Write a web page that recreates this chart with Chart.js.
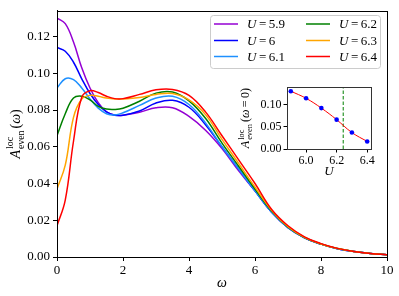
<!DOCTYPE html>
<html>
<head>
<meta charset="utf-8">
<script src="https://cdn.jsdelivr.net/npm/chart.js@4.4.1/dist/chart.umd.min.js"></script>
<style>
  html, body { margin: 0; padding: 0; background: #fff; overflow: hidden; }
  #wrap { position: relative; width: 399px; height: 296px; }
  #main { position: absolute; left: 0; top: 0; }
  #inset { position: absolute; left: 220px; top: 78px; }
</style>
</head>
<body>
<div id="wrap">
  <canvas id="main" width="399" height="296"></canvas>
  <canvas id="inset" width="175" height="105"></canvas>
</div>
<script>
// frequency grid
const omega = [0, 0.25, 0.5, 0.75, 1, 1.25, 1.5, 1.75, 2, 2.5, 3, 3.5, 4, 4.5, 5, 5.5, 6, 6.5, 7, 7.5, 8, 8.5, 9, 9.5, 10];

// A_even^loc(omega) for each U
const a59 = [0.130, 0.127, 0.117, 0.103, 0.092, 0.084, 0.079, 0.0773, 0.0772, 0.0788, 0.0812, 0.0812, 0.0765, 0.069, 0.059, 0.047, 0.036, 0.0245, 0.016, 0.0105, 0.007, 0.0045, 0.003, 0.0019, 0.0012];
const a60 = [0.114, 0.112, 0.106, 0.097, 0.089, 0.083, 0.079, 0.0772, 0.0772, 0.0795, 0.0838, 0.0853, 0.0815, 0.072, 0.060, 0.048, 0.036, 0.0245, 0.016, 0.0105, 0.007, 0.0045, 0.003, 0.0019, 0.0012];
const a61 = [0.092, 0.097, 0.0965, 0.092, 0.086, 0.081, 0.078, 0.0773, 0.0785, 0.0825, 0.0865, 0.0875, 0.083, 0.073, 0.060, 0.048, 0.036, 0.0245, 0.016, 0.0105, 0.007, 0.0045, 0.003, 0.0019, 0.0012];
const a62 = [0.066, 0.078, 0.0865, 0.0875, 0.0855, 0.082, 0.0805, 0.0803, 0.081, 0.0848, 0.0892, 0.0898, 0.085, 0.0755, 0.062, 0.0495, 0.037, 0.025, 0.0162, 0.0106, 0.0071, 0.0046, 0.003, 0.0019, 0.0012];
const a63 = [0.037, 0.050, 0.076, 0.086, 0.088, 0.0875, 0.0865, 0.086, 0.086, 0.0868, 0.0885, 0.089, 0.0855, 0.0775, 0.064, 0.051, 0.038, 0.0255, 0.0165, 0.0107, 0.0071, 0.0046, 0.003, 0.0019, 0.0012];
const a64 = [0.017, 0.031, 0.063, 0.087, 0.0905, 0.0895, 0.0875, 0.0862, 0.0862, 0.0885, 0.091, 0.0912, 0.088, 0.079, 0.066, 0.053, 0.040, 0.026, 0.017, 0.011, 0.0073, 0.0047, 0.003, 0.0019, 0.0012];

const uLabels = ['5.9', '6', '6.1', '6.2', '6.3', '6.4'];
const series = [a59, a60, a61, a62, a63, a64];
const colors = ['#9400D3', '#0000FF', '#1E90FF', '#008000', '#FFA500', '#FF0000'];

const xTicks = [0, 2, 4, 6, 8, 10];
const yTicks = [0, 0.02, 0.04, 0.06, 0.08, 0.10, 0.12];

// inset: A(omega=0) vs U
const uValues = [5.9, 6.0, 6.1, 6.2, 6.3, 6.4];
const aZero = [0.130, 0.114, 0.092, 0.066, 0.037, 0.017];
const uCrit = 6.243;
const insetXTicks = [6.0, 6.2, 6.4];
const insetYTicks = [0, 0.05, 0.10];

const SERIF = '"Liberation Serif", "DejaVu Serif", serif';

// draw A^{loc}_{even} followed by tail pieces, rotated, centered at cx, cy
function drawALabel(ctx, cx, cy, size, tail) {
  const small = size * 0.7;
  ctx.save();
  ctx.font = 'italic ' + size + 'px ' + SERIF;
  const wA = ctx.measureText('A').width;
  ctx.font = small + 'px ' + SERIF;
  const wS = Math.max(ctx.measureText('loc').width, ctx.measureText('even').width);
  let total = wA + 1 + wS + 2;
  tail.forEach(p => {
    ctx.font = (p[1] ? 'italic ' : '') + size + 'px ' + SERIF;
    total += ctx.measureText(p[0]).width;
  });
  ctx.translate(cx, cy);
  ctx.rotate(-Math.PI / 2);
  ctx.fillStyle = '#000';
  ctx.textBaseline = 'alphabetic';
  ctx.textAlign = 'left';
  let x = -total / 2;
  const base = size * 0.33;
  ctx.font = 'italic ' + size + 'px ' + SERIF;
  ctx.fillText('A', x, base);
  x += wA + 1;
  ctx.font = small + 'px ' + SERIF;
  ctx.fillText('loc', x, base - size * 0.45);
  ctx.fillText('even', x, base + size * 0.28);
  x += wS + 2;
  tail.forEach(p => {
    ctx.font = (p[1] ? 'italic ' : '') + size + 'px ' + SERIF;
    ctx.fillText(p[0], x, base);
    x += ctx.measureText(p[0]).width;
  });
  ctx.restore();
}

const frameAndLabels = {
  id: 'frameAndLabels',
  afterDraw(chart) {
    const ctx = chart.ctx;
    const a = chart.chartArea;
    ctx.save();
    ctx.strokeStyle = '#000';
    ctx.lineWidth = 1;
    ctx.strokeRect(Math.round(a.left) + 0.5, Math.round(a.top) + 0.5, Math.round(a.right - a.left), Math.round(a.bottom - a.top));
    // x label
    ctx.fillStyle = '#000';
    ctx.font = 'italic 14px ' + SERIF;
    ctx.textAlign = 'center';
    ctx.textBaseline = 'middle';
    ctx.fillText('ω', (a.left + a.right) / 2, 283);
    ctx.restore();
    drawALabel(ctx, 15, (a.top + a.bottom) / 2, 14, [['(', false], ['ω', true], [')', false]]);

    // legend, two columns, column-major like matplotlib
    ctx.save();
    const bx = 210, by = 15, bw = 170, bh = 53;
    ctx.fillStyle = 'rgba(255,255,255,0.8)';
    ctx.strokeStyle = '#cccccc';
    ctx.lineWidth = 1;
    ctx.beginPath();
    ctx.roundRect(bx + 0.5, by + 0.5, bw, bh, 3);
    ctx.fill();
    ctx.stroke();
    const rows = [24, 40.5, 56.5];
    const cols = [214, 306];
    chart.data.datasets.forEach((ds, i) => {
      const c = Math.floor(i / 3), r = i % 3;
      const lx = cols[c], ly = rows[r];
      ctx.strokeStyle = ds.borderColor;
      ctx.lineWidth = 1.5;
      ctx.beginPath();
      ctx.moveTo(lx, ly);
      ctx.lineTo(lx + 24, ly);
      ctx.stroke();
      ctx.fillStyle = '#000';
      ctx.textBaseline = 'middle';
      ctx.textAlign = 'left';
      ctx.font = 'italic 13px ' + SERIF;
      ctx.fillText('U', lx + 33, ly + 1);
      const wU = ctx.measureText('U').width;
      ctx.font = '13px ' + SERIF;
      ctx.fillText('=', lx + 33 + wU + 2.5, ly + 1);
      const wEq = ctx.measureText('=').width;
      ctx.fillText(uLabels[i], lx + 33 + wU + wEq + 5, ly + 1);
    });
    ctx.restore();
  }
};

const mainDatasets = series.map((arr, i) => ({
  label: 'U = ' + uLabels[i],
  data: omega.map((w, k) => ({ x: w, y: arr[k] })),
  borderColor: colors[i],
  backgroundColor: colors[i],
  borderWidth: 1.5,
  pointRadius: 0,
  tension: 0.4,
  order: series.length - i
}));

const tickFont = { family: SERIF, size: 13 };

new Chart(document.getElementById('main'), {
  type: 'line',
  data: { datasets: mainDatasets },
  options: {
    responsive: false,
    animation: false,
    layout: { padding: { top: 9, right: 12, left: 0, bottom: 0 } },
    plugins: { legend: { display: false }, tooltip: { enabled: false } },
    scales: {
      x: {
        type: 'linear', min: 0, max: 10,
        afterBuildTicks: s => { s.ticks = xTicks.map(v => ({ value: v })); },
        afterFit: s => { s.height = 39; },
        ticks: { color: '#000', font: tickFont, padding: 2, maxRotation: 0, callback: v => String(v) },
        grid: { display: true, drawOnChartArea: false, drawTicks: true, tickLength: 4, color: '#000' },
        border: { display: true, color: '#000' }
      },
      y: {
        type: 'linear', min: 0, max: 0.134,
        afterBuildTicks: s => { s.ticks = yTicks.map(v => ({ value: v })); },
        afterFit: s => { s.width = 57; },
        ticks: { color: '#000', font: tickFont, padding: 3, callback: v => v.toFixed(2) },
        grid: { display: true, drawOnChartArea: false, drawTicks: true, tickLength: 4, color: '#000' },
        border: { display: true, color: '#000' }
      }
    }
  },
  plugins: [frameAndLabels]
});

// inset
const insetDecor = {
  id: 'insetDecor',
  beforeDatasetsDraw(chart) {
    const ctx = chart.ctx, a = chart.chartArea;
    ctx.save();
    ctx.fillStyle = '#fff';
    ctx.fillRect(a.left, a.top, a.right - a.left, a.bottom - a.top);
    ctx.restore();
  },
  afterDraw(chart) {
    const ctx = chart.ctx, a = chart.chartArea;
    ctx.save();
    ctx.strokeStyle = '#333';
    ctx.lineWidth = 1;
    ctx.strokeRect(Math.round(a.left) + 0.5, Math.round(a.top) + 0.5, Math.round(a.right - a.left), Math.round(a.bottom - a.top));
    ctx.fillStyle = '#000';
    ctx.font = 'italic 13px ' + SERIF;
    ctx.textAlign = 'center';
    ctx.textBaseline = 'middle';
    ctx.fillText('U', (a.left + a.right) / 2, 94);
    ctx.restore();
    drawALabel(ctx, 25, (a.top + a.bottom) / 2, 12, [['(', false], ['ω', true], ['\u2009=\u20090', false], [')', false]]);
  }
};

const insetFont = { family: SERIF, size: 12 };

new Chart(document.getElementById('inset'), {
  type: 'line',
  data: {
    datasets: [
      {
        data: uValues.map((u, k) => ({ x: u, y: aZero[k] })),
        borderColor: 'transparent',
        backgroundColor: '#0000FF',
        pointRadius: 2.3,
        pointBorderWidth: 0,
        showLine: false,
        order: 0
      },
      {
        data: uValues.map((u, k) => ({ x: u, y: aZero[k] })),
        borderColor: '#FF0000',
        borderWidth: 1,
        pointRadius: 0,
        tension: 0.4,
        order: 1
      },
      {
        data: [{ x: uCrit, y: 0 }, { x: uCrit, y: 0.139 }],
        borderColor: '#008000',
        borderWidth: 1,
        borderDash: [3.5, 2],
        pointRadius: 0,
        order: 2
      }
    ]
  },
  options: {
    responsive: false,
    animation: false,
    layout: { padding: { top: 9, right: 24, left: 0, bottom: 0 } },
    plugins: { legend: { display: false }, tooltip: { enabled: false } },
    scales: {
      x: {
        type: 'linear', min: 5.875, max: 6.425,
        afterBuildTicks: s => { s.ticks = insetXTicks.map(v => ({ value: v })); },
        afterFit: s => { s.height = 34; },
        ticks: { color: '#000', font: insetFont, padding: 1, maxRotation: 0, callback: v => v.toFixed(1) },
        grid: { display: true, drawOnChartArea: false, drawTicks: true, tickLength: 3.5, color: '#000' },
        border: { display: true, color: '#333' }
      },
      y: {
        type: 'linear', min: 0, max: 0.139,
        afterBuildTicks: s => { s.ticks = insetYTicks.map(v => ({ value: v })); },
        afterFit: s => { s.width = 67; },
        ticks: { color: '#000', font: insetFont, padding: 2, callback: v => v.toFixed(2) },
        grid: { display: true, drawOnChartArea: false, drawTicks: true, tickLength: 3.5, color: '#000' },
        border: { display: true, color: '#333' }
      }
    }
  },
  plugins: [insetDecor]
});
</script>
</body>
</html>
